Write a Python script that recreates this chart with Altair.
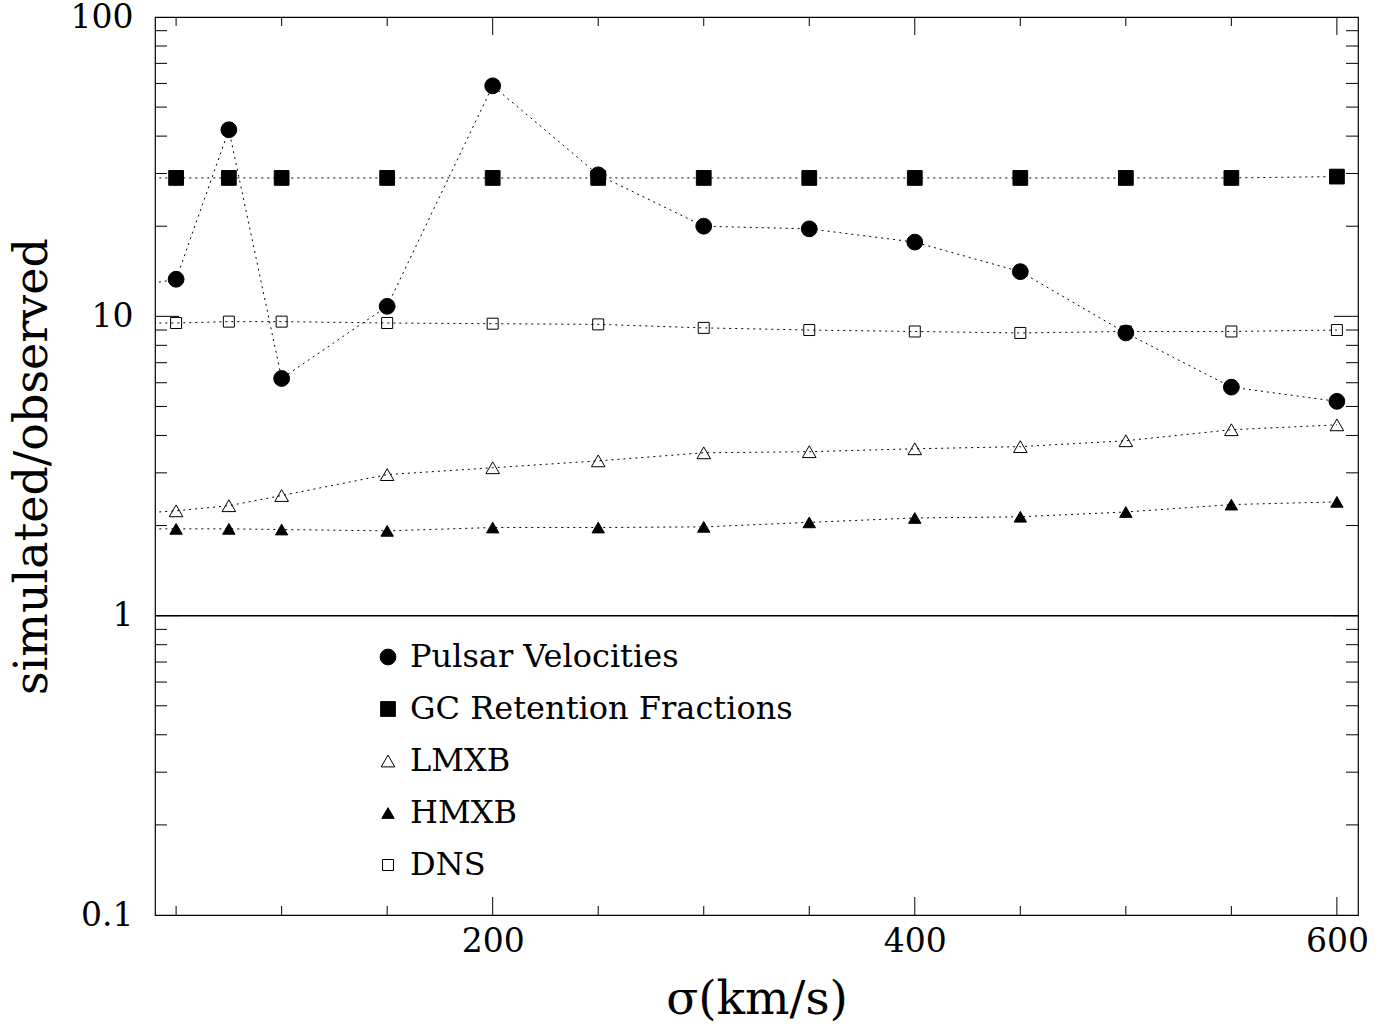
import altair as alt
import pandas as pd

# ---- data ----
series_names = ["Pulsar Velocities", "GC Retention Fractions", "LMXB", "HMXB", "DNS"]
sigma = [25, 50, 75, 100, 150, 200, 250, 300, 350, 400, 450, 500, 550, 600]
pulsar = [12.4, 13.3, 42.0, 6.2, 10.8, 58.9, 29.7, 20.0, 19.6, 17.7, 14.1, 8.8, 5.8, 5.2]
gc_ret = [29.0, 29.0, 29.0, 29.0, 29.0, 29.0, 29.0, 29.0, 29.0, 29.0, 29.0, 29.0, 29.0, 29.3]
lmxb = [2.18, 2.24, 2.33, 2.52, 2.96, 3.12, 3.29, 3.50, 3.53, 3.61, 3.67, 3.84, 4.18, 4.34]
hmxb = [1.95, 1.95, 1.95, 1.94, 1.92, 1.97, 1.97, 1.98, 2.05, 2.12, 2.14, 2.22, 2.35, 2.40]
dns = [9.5, 9.5, 9.6, 9.6, 9.5, 9.45, 9.4, 9.15, 9.0, 8.9, 8.8, 8.9, 8.9, 9.0]

x_major_ticks = [200, 400, 600]
x_minor_ticks = [50, 100, 150, 250, 300, 350, 450, 500, 550]
y_major_ticks = [1, 10]
y_minor_ticks = [0.2, 0.3, 0.4, 0.5, 0.6, 0.7, 0.8, 0.9,
                 2, 3, 4, 5, 6, 7, 8, 9,
                 20, 30, 40, 50, 60, 70, 80, 90]
reference_level = [1]

shapes = ["circle", "square", "triangle-up", "triangle-up", "square"]
fills = ["black", "black", "transparent", "black", "transparent"]
strokes = ["black", "black", "black", "black", "black"]
sizes = [250, 121, 160, 160, 130]

# ---- layout ----
W, H = 1203, 898
FONT = "DejaVu Serif"

rows = []
for name, vals in zip(series_names, [pulsar, gc_ret, lmxb, hmxb, dns]):
    for s, v in zip(sigma, vals):
        rows.append({"series": name, "sigma": s, "value": v})
df = pd.DataFrame(rows)

X = alt.X(
    "sigma:Q",
    scale=alt.Scale(domain=[40, 610], nice=False, zero=False),
    axis=alt.Axis(values=x_major_ticks, ticks=False, domain=False, grid=False,
                  labelFont=FONT, labelFontSize=33, labelColor="black",
                  labelPadding=10, labelFlush=False, labelOverlap=False,
                  titleFont=FONT, titleFontSize=47, titleFontWeight="normal",
                  titleColor="black", titlePadding=18),
    title="σ(km/s)",
)
Y = alt.Y(
    "value:Q",
    scale=alt.Scale(type="log", domain=[0.1, 100], nice=False),
    axis=alt.Axis(values=[0.1, 1, 10, 100], format="~g", ticks=False, domain=False,
                  grid=False, labelFont=FONT, labelFontSize=33, labelColor="black",
                  labelPadding=22, labelFlush=False, labelOverlap=False,
                  titleFont=FONT, titleFontSize=46, titleFontWeight="normal",
                  titleColor="black", titlePadding=14),
    title="simulated/observed",
)

leg = alt.Legend(orient="none", legendX=217, legendY=624, title=None,
                 labelFont=FONT, labelFontSize=32, labelColor="black", labelLimit=0,
                 symbolStrokeWidth=1, rowPadding=20, labelOffset=6)

base = alt.Chart(df)

lines = base.mark_line(stroke="black", strokeWidth=1, strokeDash=[2, 4], clip=True).encode(
    x=X, y=Y, detail="series:N"
)

points = base.mark_point(filled=True, strokeWidth=1, opacity=1, clip=True).encode(
    x=X, y=Y,
    shape=alt.Shape("series:N", scale=alt.Scale(domain=series_names, range=shapes), legend=leg),
    fill=alt.Fill("series:N", scale=alt.Scale(domain=series_names, range=fills), legend=leg),
    stroke=alt.Stroke("series:N", scale=alt.Scale(domain=series_names, range=strokes), legend=leg),
    size=alt.Size("series:N", scale=alt.Scale(domain=series_names, range=sizes), legend=leg),
)

ref = alt.Chart(pd.DataFrame({"value": reference_level})).mark_rule(
    color="black", strokeWidth=1.5).encode(y=Y)

xmin = alt.Chart(pd.DataFrame({"sigma": x_minor_ticks}))
xmaj = alt.Chart(pd.DataFrame({"sigma": x_major_ticks}))
ymin = alt.Chart(pd.DataFrame({"value": y_minor_ticks}))
ymaj = alt.Chart(pd.DataFrame({"value": y_major_ticks}))

tk = dict(color="black", strokeWidth=1)
tick_layers = [
    xmin.mark_rule(**tk).encode(x=X, y=alt.value(H), y2=alt.value(H - 9)),
    xmin.mark_rule(**tk).encode(x=X, y=alt.value(0), y2=alt.value(9)),
    xmaj.mark_rule(**tk).encode(x=X, y=alt.value(H), y2=alt.value(H - 18)),
    xmaj.mark_rule(**tk).encode(x=X, y=alt.value(0), y2=alt.value(18)),
    ymin.mark_rule(**tk).encode(y=Y, x=alt.value(0), x2=alt.value(12)),
    ymin.mark_rule(**tk).encode(y=Y, x=alt.value(W - 12), x2=alt.value(W)),
    ymaj.mark_rule(**tk).encode(y=Y, x=alt.value(0), x2=alt.value(24)),
    ymaj.mark_rule(**tk).encode(y=Y, x=alt.value(W - 24), x2=alt.value(W)),
]

chart = alt.layer(*tick_layers, ref, lines, points).properties(
    width=W, height=H,
    autosize=alt.AutoSizeParams(type="none"),
    padding={"left": 155, "top": 17, "right": 33, "bottom": 112},
    background="white",
).configure_view(stroke="black", strokeWidth=1.2)

chart.save("out.html", embed_options={"renderer": "svg", "actions": False})
